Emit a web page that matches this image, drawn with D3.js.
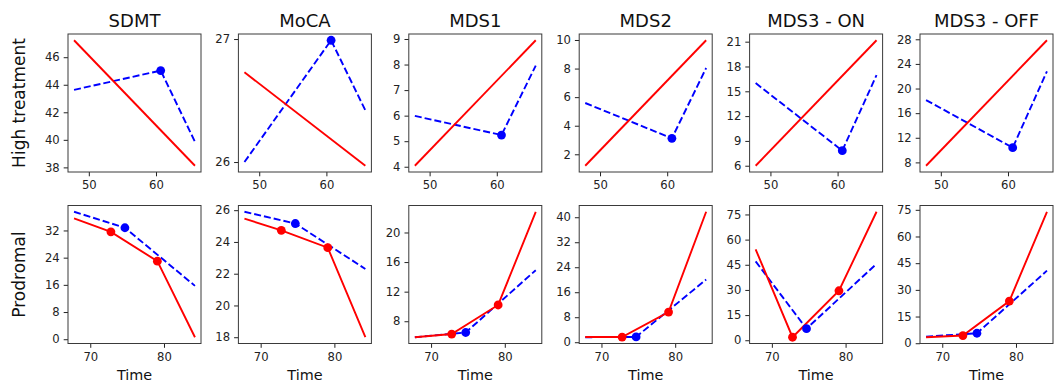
<!DOCTYPE html>
<html><head><meta charset="utf-8">
<script src="https://cdn.jsdelivr.net/npm/d3@7"></script>
<style>body{margin:0;background:#fff}svg{display:block;font-family:"DejaVu Sans",sans-serif}</style>
</head><body><svg id="c" width="1055" height="383"></svg>
<script>
const titles = ["SDMT", "MoCA", "MDS1", "MDS2", "MDS3 - ON", "MDS3 - OFF"];
const rowLabels = ["High treatment", "Prodromal"];

// Top row (High treatment)
const topRedX = [47.8, 65.8];
const topBlueX = [47.8, 60.7, 65.8];
const topBlueDotIdx = [1];
const topRed = [[47.23, 38.12], [26.73, 25.97], [4.04, 8.95], [1.2, 9.98], [6.0, 21.17], [7.46, 27.84]];
const topBlue = [[43.63, 45.03, 39.86], [26.0, 26.99, 26.42], [5.99, 5.24, 7.96], [5.59, 3.12, 8.04], [15.99, 7.82, 16.96], [18.13, 10.39, 22.8]];
const topXTicks = [50, 60];
const topYTicks = [[38, 40, 42, 44, 46], [26, 27], [4, 5, 6, 7, 8, 9], [2, 4, 6, 8, 10], [6, 9, 12, 15, 18, 21], [8, 12, 16, 20, 24, 28]];

// Bottom row (Prodromal)
const botRedX = [67.8, 72.8, 79.1, 84.2];
const botRedDotIdx = [1, 2];
const botBlueX = [67.8, 74.7, 84.2];
const botBlueDotIdx = [1];
const botRed = [[35.53, 31.6, 22.96, 0.59], [25.47, 24.73, 23.64, 18.0], [5.84, 6.27, 10.2, 22.8], [1.65, 1.65, 9.65, 41.75], [54.2, 1.8, 29.5, 76.6], [3.37, 4.3, 23.7, 73.9]];
const botBlue = [[37.5, 32.8, 15.7], [25.9, 25.16, 22.3], [5.84, 6.48, 14.9], [1.6, 1.7, 20.05], [47.0, 6.9, 45.6], [3.7, 5.6, 40.8]];
const botXTicks = [70, 80];
const botYTicks = [[0, 8, 16, 24, 32], [18, 20, 22, 24, 26], [8, 12, 16, 20], [0, 8, 16, 24, 32, 40], [0, 15, 30, 45, 60, 75], [0, 15, 30, 45, 60, 75]];

const svg = d3.select("#c");
const W = 133, H = 138, left0 = 68, step = 170.4;
const rowTop = [34, 205.5];

function pad(ext) { const d = ext[1] - ext[0]; return [ext[0] - 0.05 * d, ext[1] + 0.05 * d]; }

const rows = [
  {redX: topRedX, blueX: topBlueX, red: topRed, blue: topBlue, redDots: [], blueDots: topBlueDotIdx, xt: topXTicks, yt: topYTicks},
  {redX: botRedX, blueX: botBlueX, red: botRed, blue: botBlue, redDots: botRedDotIdx, blueDots: botBlueDotIdx, xt: botXTicks, yt: botYTicks}
];

rows.forEach((r, ri) => {
  for (let p = 0; p < 6; p++) {
    const x0 = left0 + p * step, y0 = rowTop[ri];
    const g = svg.append("g").attr("transform", `translate(${x0},${y0})`);
    const allX = r.redX.concat(r.blueX);
    const allY = r.red[p].concat(r.blue[p]);
    const x = d3.scaleLinear().domain(pad(d3.extent(allX))).range([0, W]);
    const y = d3.scaleLinear().domain(pad(d3.extent(allY))).range([H, 0]);

    const clipId = `clip${ri}${p}`;
    g.append("clipPath").attr("id", clipId).append("rect").attr("width", W).attr("height", H);
    const pg = g.append("g").attr("clip-path", `url(#${clipId})`);

    const line = d3.line().x(d => x(d[0])).y(d => y(d[1]));
    const blueData = r.blueX.map((v, i) => [v, r.blue[p][i]]);
    const redData = r.redX.map((v, i) => [v, r.red[p][i]]);
    pg.append("path").datum(blueData).attr("d", line).attr("fill", "none")
      .attr("stroke", "#0000ff").attr("stroke-width", 1.9).attr("stroke-dasharray", "7,3");
    pg.append("path").datum(redData).attr("d", line).attr("fill", "none")
      .attr("stroke", "#ff0000").attr("stroke-width", 1.9);
    g.selectAll(".bd").data(r.blueDots.map(i => blueData[i])).enter().append("circle")
      .attr("cx", d => x(d[0])).attr("cy", d => y(d[1])).attr("r", 4.4).attr("fill", "#0000ff");
    g.selectAll(".rd").data(r.redDots.map(i => redData[i])).enter().append("circle")
      .attr("cx", d => x(d[0])).attr("cy", d => y(d[1])).attr("r", 4.4).attr("fill", "#ff0000");

    // axes
    const xa = g.append("g").attr("transform", `translate(0,${H})`)
      .call(d3.axisBottom(x).tickValues(r.xt).tickSize(4.3).tickPadding(4.5).tickFormat(d3.format("d")));
    const ya = g.append("g")
      .call(d3.axisLeft(y).tickValues(r.yt[p]).tickSize(4.3).tickPadding(4).tickFormat(d3.format("d")));
    [xa, ya].forEach(a => {
      a.select(".domain").remove();
      a.selectAll("line").attr("stroke", "#222").attr("stroke-width", 1);
      a.selectAll("text").attr("font-size", 11.6).attr("fill", "#222").attr("font-family", "DejaVu Sans");
    });
    g.append("rect").attr("width", W).attr("height", H).attr("fill", "none")
      .attr("stroke", "#3a3a3a").attr("stroke-width", 1);

    if (ri === 0) {
      g.append("text").attr("x", W / 2).attr("y", -7.5).attr("text-anchor", "middle")
        .attr("font-size", 18).attr("fill", "#111").text(titles[p]);
    } else {
      g.append("text").attr("x", W / 2).attr("y", H + 36).attr("text-anchor", "middle")
        .attr("font-size", 14.4).attr("fill", "#111").text("Time");
    }
  }
  svg.append("text").attr("transform", `translate(25,${rowTop[ri] + H / 2}) rotate(-90)`)
    .attr("text-anchor", "middle").attr("font-size", 17).attr("fill", "#111").text(rowLabels[ri]);
});
</script></body></html>
